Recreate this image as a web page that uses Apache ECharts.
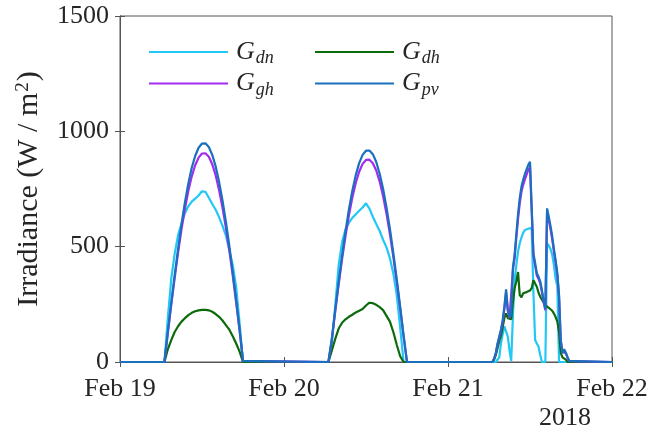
<!DOCTYPE html>
<html><head><meta charset="utf-8">
<script src="https://cdn.jsdelivr.net/npm/echarts@6/dist/echarts.min.js"></script>
<style>html,body{margin:0;padding:0;background:#fff}#c{width:647px;height:438px}</style>
</head><body><div id="c"></div>
<script>
// Hours since Feb 19 2018 00:00
const hours = [
  0, 6.5, 7, 7.5, 8, 8.5, 9, 9.5, 10, 10.5, 11, 11.5, 12, 12.5, 13, 13.5, 14, 14.5, 15, 15.5, 16, 16.5, 17, 17.5, 18,
  30.5, 31, 31.5, 32, 32.5, 33, 33.5, 34, 34.5, 35, 35.5, 36, 36.5, 37, 37.5, 38, 38.5, 39, 39.5, 40, 40.5, 41, 41.5, 42,
  54.5, 54.75, 55, 55.25, 55.5, 55.75, 56, 56.25, 56.5, 56.75, 57, 57.25, 57.5, 57.75, 58, 58.25, 58.5, 58.75, 59, 59.25,
  59.5, 59.75, 60, 60.25, 60.5, 60.75, 61, 61.25, 61.5, 61.75, 62, 62.25, 62.5, 62.75, 63, 63.25, 63.5, 63.75, 64, 64.25,
  64.5, 64.75, 65, 65.25, 65.5, 65.75, 66,
  72
];
const gdn = [
  0, 0, 190, 360, 470, 550, 600, 645, 675, 695, 708, 722, 740, 738, 712, 685, 660, 628, 590, 548, 485, 420, 325, 170, 0,
  0, 80, 245, 420, 520, 575, 603, 625, 640, 656, 670, 688, 665, 630, 598, 568, 530, 497, 450, 384, 290, 150, 0, 0,
  0, 0, 0, 0, 20, 80, 120, 155, 160, 110, 50, 5, 200, 355, 420, 480, 515, 540, 560, 572,
  575, 578, 580, 580, 300, 95, 80, 66, 30, 0, 0, 0, 514, 505, 490, 465, 420, 360, 330, 0,
  0, 0, 0, 0, 0, 0, 0,
  0
];
const gdh = [
  0, 0, 55, 95, 130, 155, 175, 190, 203, 213, 220, 224, 226, 226, 224, 218, 208, 196, 180, 160, 140, 112, 80, 45, 0,
  0, 50, 100, 145, 170, 185, 196, 205, 215, 222, 230, 245, 257, 255, 248, 238, 225, 200, 175, 130, 75, 25, 0, 0,
  0, 10, 30, 60, 90, 115, 150, 190, 211, 190, 182, 185, 260, 320, 350, 390, 290, 280, 298, 300,
  303, 305, 310, 320, 355, 340, 326, 300, 283, 270, 258, 247, 240, 235, 230, 222, 210, 195, 175, 130,
  40, 20, 15, 10, 0, 0, 0,
  0
];
const ggh = [
  0, 0, 125, 248, 364, 474, 575, 664, 742, 805, 853, 886, 904, 905, 890, 857, 810, 745, 670, 582, 483, 375, 258, 136, 5,
  0, 98, 220, 336, 446, 546, 636, 713, 776, 825, 859, 876, 877, 862, 830, 782, 720, 643, 555, 455, 346, 232, 111, 0,
  0, 14, 38, 76, 105, 135, 172, 230, 300, 222, 190, 198, 398, 450, 538, 620, 688, 738, 768, 792,
  812, 832, 845, 848, 460, 418, 375, 360, 340, 302, 258, 224, 648, 614, 576, 532, 478, 430, 375, 282,
  92, 45, 52, 38, 18, 4, 0,
  0
];
const gpv = [
  0, 0, 129, 256, 377, 491, 597, 692, 774, 842, 893, 929, 947, 948, 932, 898, 848, 781, 700, 607, 503, 390, 268, 141, 5,
  0, 101, 227, 347, 461, 566, 661, 743, 810, 862, 898, 916, 917, 901, 867, 816, 751, 670, 577, 473, 359, 240, 115, 0,
  0, 15, 40, 80, 110, 140, 180, 240, 315, 230, 196, 205, 410, 465, 555, 640, 710, 760, 790, 815,
  835, 855, 868, 868, 471, 430, 385, 370, 350, 310, 265, 230, 666, 630, 590, 545, 490, 440, 385, 290,
  95, 38, 55, 40, 20, 5, 0,
  0
];
const xTicks = [0, 24, 48, 72];
const xTickLabels = ['Feb 19', 'Feb 20', 'Feb 21', 'Feb 22'];
const yTicks = [0, 500, 1000, 1500];
const yearLabel = '2018';
const seriesNames = ['Gdn', 'Gdh', 'Ggh', 'Gpv'];
const seriesSubs = ['dn', 'dh', 'gh', 'pv'];
const seriesValues = [gdn, gdh, ggh, gpv];
const seriesColors = ['#22c8f5', '#0b6b0b', '#a12cf0', '#1b70be'];

const font = 'Liberation Serif';
const txt = '#262626';
const axisCol = '#555';

const chart = echarts.init(document.getElementById('c'), null, {renderer: 'canvas'});
const pair = v => hours.map((h, i) => [h, v[i]]);
const legendFmt = name => '{g|G}{s|' + seriesSubs[seriesNames.indexOf(name)] + '}';
const legendRich = {
  g: {fontFamily: font, fontStyle: 'italic', fontSize: 26, color: txt},
  s: {fontFamily: font, fontStyle: 'italic', fontSize: 18, color: txt, padding: [13, 0, 0, 1]}
};
const legendBase = {
  orient: 'vertical', top: 39, padding: 0, itemWidth: 79, itemHeight: 14, itemGap: 3,
  formatter: legendFmt, textStyle: {rich: legendRich, padding: [0, 0, 0, 3]},
  itemStyle: {opacity: 0},
  selectedMode: false
};

chart.setOption({
  animation: false,
  backgroundColor: '#fff',
  grid: {left: 120, right: 35, top: 16, bottom: 76, show: true, borderColor: axisCol, borderWidth: 1,
         outerBoundsMode: 'none', containLabel: false},
  title: {text: yearLabel, left: 539, top: 405, padding: 0, textStyle: {fontFamily: font, fontSize: 26, fontWeight: 'normal', color: txt}},
  legend: [
    Object.assign({left: 148, data: [seriesNames[0], seriesNames[2]]}, legendBase),
    Object.assign({left: 314, data: [seriesNames[1], seriesNames[3]]}, legendBase)
  ],
  xAxis: [
    {type: 'value', min: 0, max: 72, interval: 24, position: 'bottom',
     axisLine: {show: true, lineStyle: {color: axisCol}},
     axisTick: {show: true, inside: true, length: 5, lineStyle: {color: axisCol}},
     splitLine: {show: false},
     axisLabel: {show: true, margin: 14, fontFamily: font, fontSize: 26, color: txt, showMinLabel: true, showMaxLabel: true,
       hideOverlap: false, formatter: v => xTickLabels[xTicks.indexOf(v)] || ''}},
    {type: 'value', min: 0, max: 72, interval: 24, position: 'top',
     axisLine: {show: true, lineStyle: {color: axisCol}},
     axisTick: {show: true, inside: true, length: 5, lineStyle: {color: axisCol}},
     splitLine: {show: false}, axisLabel: {show: false}}
  ],
  yAxis: [
    {type: 'value', min: 0, max: 1500, interval: 500, position: 'left',
     name: '{a|Irradiance (W / m}{sup|2}{a|)}', nameLocation: 'middle', nameGap: 75,
     nameTextStyle: {fontFamily: font, fontSize: 30, color: txt,
       rich: {a: {fontFamily: font, fontSize: 30, color: txt},
              sup: {fontFamily: font, fontSize: 19, color: txt, padding: [0, 1, 12, 1]}}},
     axisLine: {show: true, lineStyle: {color: axisCol}},
     axisTick: {show: true, inside: true, length: 5, lineStyle: {color: axisCol}},
     splitLine: {show: false},
     axisLabel: {show: true, margin: 11, fontFamily: font, fontSize: 26, color: txt,
       formatter: v => yTicks.indexOf(v) >= 0 ? String(v) : ''}},
    {type: 'value', min: 0, max: 1500, interval: 500, position: 'right',
     axisLine: {show: true, lineStyle: {color: axisCol}},
     axisTick: {show: true, inside: true, length: 5, lineStyle: {color: axisCol}},
     splitLine: {show: false}, axisLabel: {show: false}}
  ],
  series: seriesNames.map((n, i) => ({
    name: n, type: 'line', data: pair(seriesValues[i]), symbol: 'none', smooth: false,
    color: seriesColors[i], lineStyle: {width: 2.2, color: seriesColors[i]}, z: 2 + i
  }))
});
</script>
</body></html>
